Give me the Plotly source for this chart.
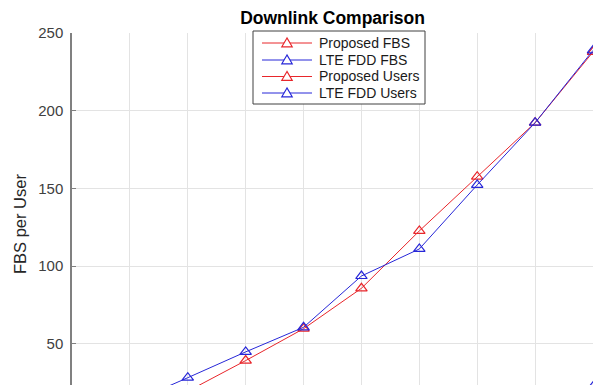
import plotly.graph_objects as go

# Number of cells / users on the horizontal axis
x_vals = [1, 2, 3, 4, 5, 6, 7, 8, 9, 10]

# FBS per user for each scheme
proposed_fbs = [3, 8, 19.6, 39.3, 59.8, 85.8, 122.7, 157.6, 192.3, 237.8]
lte_fdd_fbs = [4, 12, 28.3, 44.9, 60.7, 93.7, 111.1, 152.3, 192.3, 238.8]
proposed_users = [1, 2, 4, 6, 8, 10, 12, 15, 18, 20]
lte_fdd_users = [2, 4, 6, 8, 10, 12, 14, 17, 19, 22.5]

series = [
    ("Proposed FBS", proposed_fbs, "#e8262b"),
    ("LTE FDD FBS", lte_fdd_fbs, "#2727d8"),
    ("Proposed Users", proposed_users, "#e8262b"),
    ("LTE FDD Users", lte_fdd_users, "#2727d8"),
]

FONT = "Liberation Sans, Arial, sans-serif"
W, H = 603, 385
ML, MR, MT, MB = 72, 10, 33, 0
PW, PH = W - ML - MR, H - MT - MB


def px(xp):
    """Pixel column -> paper x."""
    return (xp - ML) / PW


def py(yp):
    """Pixel row -> paper y."""
    return (H - MB - yp) / PH


fig = go.Figure()
for name, vals, color in series:
    fig.add_trace(go.Scatter(
        x=x_vals, y=vals, name=name, mode="lines+markers",
        line=dict(color=color, width=1),
        marker=dict(symbol="triangle-up-open", size=10,
                    color=color, line=dict(color=color, width=1.2)),
        showlegend=False,
    ))

fig.update_layout(
    width=W, height=H,
    margin=dict(l=ML, r=MR, t=MT, b=MB, pad=0),
    paper_bgcolor="white", plot_bgcolor="white",
    font=dict(family=FONT, color="#404040"),
    title=dict(text="<b>Downlink Comparison</b>", x=0.5, xref="paper",
               y=1 - 18 / H, yref="container", yanchor="middle",
               xanchor="center",
               font=dict(size=17.5, color="#000000", family=FONT)),
    showlegend=False,
)

fig.update_xaxes(
    range=[1, 10], dtick=1, showgrid=True, gridcolor="#e3e3e3", gridwidth=1,
    showticklabels=False, showline=False, zeroline=False, ticks="",
)
fig.update_yaxes(
    range=[23.6, 250], tick0=0, dtick=50, showgrid=True, gridcolor="#e3e3e3",
    gridwidth=1, zeroline=False, showline=True, linecolor="#808080",
    linewidth=1.5, ticks="inside", ticklen=4, tickcolor="#808080",
    ticklabelstandoff=4,
    tickfont=dict(size=15, color="#404040", family=FONT),
)

fig.add_annotation(
    text="FBS per User", textangle=-90, xref="paper", yref="paper",
    x=px(20), y=py(224), xanchor="center", yanchor="middle",
    showarrow=False,
    font=dict(size=16.5, color="#262626", family=FONT),
)

# Compact boxed legend (line sample, triangle marker, label per entry)
box_l, box_r, box_t, box_b = 253, 425, 31, 104
row_y = [43, 60, 76.5, 93]
line_x0, line_x1, mark_x, text_x = 262, 312, 287, 317
shapes = [dict(type="rect", xref="paper", yref="paper", layer="above",
               x0=px(box_l), x1=px(box_r), y0=py(box_b), y1=py(box_t),
               fillcolor="white", line=dict(color="#404040", width=1))]
for (name, _, color), yc in zip(series, row_y):
    shapes.append(dict(type="line", xref="paper", yref="paper",
                       layer="above", x0=px(line_x0), x1=px(line_x1),
                       y0=py(yc), y1=py(yc), line=dict(color=color, width=1)))
    tri = (f"M {px(mark_x)},{py(yc - 5)} L {px(mark_x - 5.2)},{py(yc + 3.8)} "
           f"L {px(mark_x + 5.2)},{py(yc + 3.8)} Z")
    shapes.append(dict(type="path", xref="paper", yref="paper",
                       layer="above", path=tri, fillcolor="white",
                       line=dict(color=color, width=1.2)))
    fig.add_annotation(
        text=name, xref="paper", yref="paper", x=px(text_x), y=py(yc),
        xanchor="left", yanchor="middle", showarrow=False,
        font=dict(size=14, color="#1a1a1a", family=FONT),
    )
fig.update_layout(shapes=shapes)

fig.write_html("out.html")
